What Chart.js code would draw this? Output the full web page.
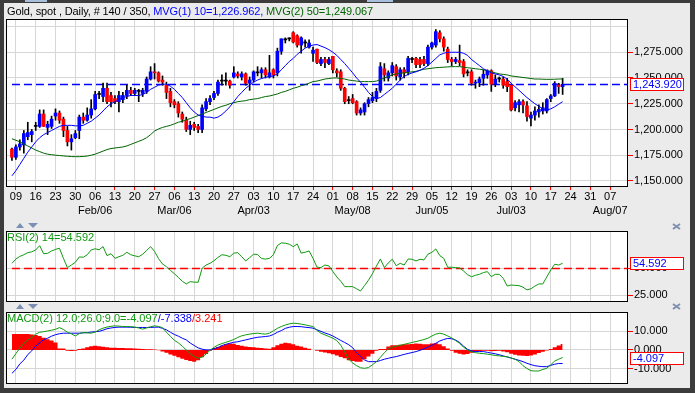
<!DOCTYPE html>
<html>
<head>
<meta charset="utf-8">
<script src="https://cdn.jsdelivr.net/npm/chart.js@4.4.1/dist/chart.umd.min.js"></script>
<style>
html,body{margin:0;padding:0;background:#ebebeb;}
#stage{position:relative;width:695px;height:393px;overflow:hidden;background:#ebebeb;font-family:"Liberation Sans",Arial,sans-serif;}
#stage canvas{position:absolute;left:0;top:0;}
.txt{position:absolute;font-size:11px;line-height:13px;white-space:nowrap;}
.blk{position:absolute;background:#3c3c3c;}
.up{position:absolute;width:0;height:0;border-left:4px solid transparent;border-right:4px solid transparent;border-bottom:5px solid #7a8fb3;}
.dn{position:absolute;width:0;height:0;border-left:5px solid transparent;border-right:5px solid transparent;border-top:5px solid #7a8fb3;}
</style>
</head>
<body>
<div id="stage">
<canvas id="cMain" width="695" height="393"></canvas>
<canvas id="cRsi" width="695" height="393"></canvas>
<canvas id="cMacd" width="695" height="393"></canvas>
<div class="blk" style="left:0;top:0;width:695px;height:3px"></div>
<div class="blk" style="left:0;top:0;width:4px;height:393px"></div>
<div class="blk" style="left:690px;top:0;width:5px;height:393px"></div>
<div class="blk" style="left:0;top:388px;width:695px;height:5px"></div>
<div style="position:absolute;left:25px;top:0;width:22px;height:2px;background:#a9c0dc"></div>
<div style="position:absolute;left:367px;top:0;width:26px;height:2px;background:#a9c0dc"></div>
<div class="txt" style="left:7px;top:5px;color:#000;letter-spacing:-0.12px">Gold, spot , Daily, # 140 / 350, <span style="color:#0000ff">MVG(1) 10=1,226.962,</span> <span style="color:#006400">MVG(2) 50=1,249.067</span></div>
<div class="txt" style="left:7px;top:231px;color:#119911">RSI(2) 14=54.592</div>
<div class="txt" style="left:7px;top:312px;color:#119911">MACD(2) 12.0;26.0;9.0=-4.097<span style="color:#0000ff">/-7.338</span><span style="color:#ff0000">/3.241</span></div>
<div class="up" style="left:16px;top:223px"></div>
<div class="dn" style="left:28px;top:223px"></div>
<svg style="position:absolute;left:672px;top:223px" width="9" height="7"><path d="M1 1L8 6M8 1L1 6" stroke="#8090b0" stroke-width="2"/></svg>
<div class="up" style="left:16px;top:304px"></div>
<div class="dn" style="left:28px;top:304px"></div>
<svg style="position:absolute;left:672px;top:303px" width="9" height="7"><path d="M1 1L8 6M8 1L1 6" stroke="#8090b0" stroke-width="2"/></svg>
</div>
<script>
// ---------------- data ----------------
const axisStart = '2017-01-05';
const axisEnd = '2017-08-11';
const firstBar = '2017-01-06';

const open = [1181,1173,1183,1185,1193,1195,1203,1203,1215,1202,
1203,1213,1216,1210,1199,1188,1192,1199,1212,1209,
1214,1220,1234,1232,1240,1233,1230,1227,1229,1233,
1238,1235,1237,1235,1237,1249,1256,1255,1248,1243,
1237,1227,1225,1215,1209,1200,1205,1203,1200,1220,
1227,1231,1235,1247,1247,1247,1251,1254,1251,1254,
1245,1248,1255,1255,1258,1251,1258,1255,1276,1287,
1288,1294,1291,1282,1284,1280,1274,1278,1264,1268,
1264,1271,1257,1256,1240,1228,1230,1227,1216,1217,
1225,1228,1230,1238,1259,1250,1255,1261,1251,1258,
1256,1268,1269,1268,1268,1264,1280,1282,1294,1288,
1278,1268,1266,1267,1266,1255,1256,1245,1245.5,1249.7,
1253,1257,1244,1249,1249,1246.5,1243,1221,1224,1227,
1223,1211,1214,1217,1218,1218,1230,1232.6,1243.2,1241.6];

const high = [1182,1185,1190,1199,1207,1200,1207,1219,1219,1208,
1213,1220,1218,1212,1203,1195,1199,1214,1216,1221,
1229,1237,1237,1245,1245,1236,1233,1237,1236,1243,
1241,1240,1239,1240,1251,1261,1264,1256,1252,1246,
1240,1229,1227,1217,1212,1208,1207,1205,1224,1230,
1233,1237,1248,1253,1255,1248,1261,1256,1256,1255,
1251,1257,1261,1260,1260,1272,1259,1279,1288,1289,
1289,1295,1292,1290,1287,1287,1280,1278,1270,1270,
1270,1271,1259,1258,1241,1232,1234,1228,1221,1226,
1231,1236,1240,1265,1264,1257,1265,1263,1260,1260,
1271,1270,1270,1270,1271,1282,1285,1297,1296,1290,
1280,1270,1270,1282,1268,1258,1258,1248,1251,1257.8,
1258,1258,1253,1251,1251,1249.7,1243,1228,1229,1228.7,
1227,1217,1222,1224,1226,1230,1234,1246.5,1244.9,1249.7];

const low = [1170,1171,1180,1177,1190,1188,1199,1202,1203,1195,
1201,1209,1206,1193,1184,1180,1191,1191,1206,1208,
1211,1219,1230,1227,1225,1222,1225,1217,1226,1230,
1233,1233,1227,1232,1235,1248,1249,1246,1243,1230,
1222,1221,1212,1207,1198,1195,1199,1197,1197,1218,
1224,1229,1233,1243,1243,1240,1250,1250,1248,1243,
1238,1246,1252,1250,1250,1250,1250,1252,1273,1284,
1286,1284,1280,1274,1280,1279,1266,1264,1262,1260,
1263,1255,1251,1238,1225,1225,1225,1214,1214,1214,
1222,1226,1227,1236,1247,1247,1252,1248,1248,1250,
1253,1265,1260,1260,1262,1262,1278,1280,1285,1276,
1265,1262,1264,1262,1251,1252,1243,1240,1241.6,1243,
1249.7,1237,1241.6,1246,1240,1236.8,1218,1218,1217,1216,
1208,1203.4,1209,1212,1215,1216,1227,1231.9,1235,1234];

const close = [1173,1183,1186,1196,1197,1198,1203,1215,1203,1205,
1210,1216,1209,1199,1188,1191,1196,1212,1209,1214,
1220,1234,1234,1240,1227,1227,1227,1233,1233,1238,
1235,1238,1237,1238,1249,1256,1255,1247,1246,1236,
1226,1224,1216,1210,1200,1204,1202,1200,1221,1227,
1230,1235,1246,1247,1247,1243,1255,1252,1254,1245,
1248,1256,1255,1258,1253,1255,1253,1276,1288,1287,
1288,1285,1282,1289,1284,1284,1277,1265,1268,1265,
1268,1258,1255,1240,1227,1228,1226,1216,1219,1225,
1229,1231,1237,1261,1253,1255,1262,1252,1258,1255,
1269,1268,1263,1263,1264,1280,1284,1295,1288,1280,
1268,1266,1268,1265,1254,1255,1245,1245.5,1249,1253.6,
1257,1244,1249,1249,1243,1241.6,1219,1226,1227,1223.8,
1212.5,1214,1218,1219.5,1221,1229,1232.6,1244.9,1241.6,1243.92];

const ma10 = [1155,1160,1166,1172,1178,1183,1188,1192,1195,1197,
1199,1201,1203,1204,1204,1204,1203.5,1203.5,1204,1206,
1208,1211,1214,1218,1222,1225,1227,1229,1231,1232,
1233,1233,1233,1234,1236,1239,1241,1243,1244,1244,
1242,1239,1235,1231,1226,1221,1217,1214,1213,1212,
1212,1211,1212,1214.5,1218,1222,1227,1232,1236,1240,
1243,1246,1248,1249.5,1250.5,1251.5,1252,1254,1258,1262,
1266,1269,1273,1276,1279,1281,1282,1282.5,1281,1279.5,
1277.5,1275,1272,1268,1264,1259.5,1255,1250,1246,1241,
1236,1232,1230,1231,1234,1237,1240,1244,1248,1251.5,
1253.5,1255,1256,1257.5,1259.5,1262,1265.5,1269,1272.5,1274,
1275,1275,1275,1275,1274,1272,1268,1265,1262,1259,
1257,1255,1254,1253,1251.5,1249,1245,1241.5,1238,1234.5,
1231,1228,1225,1222.5,1220,1219,1220,1222,1224.5,1226.962];

const ma50 = [1191,1189.5,1188,1186,1184,1182,1180,1178.5,1177,1176,
1175.5,1175,1174.7,1174.3,1174,1173.7,1173.6,1173.6,1173.8,1174.2,
1175,1176,1177.5,1179,1180.5,1181.5,1182,1182.5,1183,1184,
1185.5,1187,1188.5,1190,1192,1195,1198.5,1200.5,1202,1203,
1204,1205.5,1207,1208,1209.5,1210.5,1212,1213.5,1215,1216.5,
1218,1219.5,1221,1222.5,1223.5,1225,1226,1227,1227.5,1228,
1229,1229.5,1230,1231,1232,1232.5,1233.5,1234.5,1236,1237,
1238.5,1240,1241,1242.5,1243.5,1245,1246.5,1247,1248,1249,
1249.5,1250,1250,1249.5,1249,1248,1247.5,1247,1246.5,1246.5,
1246.5,1246.5,1247,1248.5,1250,1251.5,1253,1254,1254.5,1255,
1255.5,1256,1256.5,1257.5,1258.5,1259,1259.5,1260,1260.3,1260.5,
1260.8,1261,1261,1261,1260.5,1260,1259.5,1259,1258.5,1258,
1257,1256,1255,1254,1253.5,1253,1252,1251.5,1251,1250.5,
1250,1249.5,1249,1249,1248.8,1248.7,1248.7,1248.8,1249,1249.067];

const rsi = [54.6,58.5,61,62.5,64.5,65.2,67,70.9,63.5,63.8,
66,67.5,68.5,59.2,50.6,53,55.5,60.5,60.2,62.5,
67,68,67.2,70,61.7,63.5,59.2,60.7,62,64.8,
62.5,61.5,60.7,63,66.5,70,65.5,59,54,51.5,
48,45,41.5,38,35.5,37.6,37.2,37,50,53,
54.6,57,60,62.5,62,60.7,64,64.5,60.7,56.8,
59.8,63,62.8,59,58.5,59.2,62.5,71,73.5,73.2,
72.3,70,72.5,64,64.8,66,59.2,51,50.6,53,
52.2,47,42,38,33,33,33,31,29,34,
39,45,52,58.6,50.6,55,58.3,52.4,54.6,53,
58.6,58.3,56.8,58.3,57.7,63,64.8,67.9,61.7,59.2,
50.9,51,50.6,50.3,47.5,44,42.2,43.5,44.4,46,
46.9,42.2,44.4,44.4,40.7,33.6,34.5,34.2,33.9,32.5,
30,31,33.5,35.5,35.5,42,48.4,53.7,53,54.592];

const macd = [-5,-2,1,3.5,5.3,6.8,8.5,9.5,9.8,10.2,
10.6,11.1,12,11,9.5,8.65,7.5,8.8,9.3,9.2,
9,9.6,10.8,11.7,12.3,12.7,12.95,12.8,12.6,12.6,
12.5,12.3,11.8,11.2,11.8,12.5,12.95,12.6,12,9.5,
7.3,5.2,3.8,2,0,-2,-3.5,-4.5,-3.8,-2.2,
-0.2,1.4,2.6,3.4,4.1,4.8,5.6,6.7,7.6,8.1,
8.5,8.8,9,8.7,8.5,9,10.3,11.6,12.6,13.4,
14,14.4,14.2,13.9,13.5,13,12.6,10.5,9,8.1,
7.2,6.3,5,2.5,-1,-5,-7,-8.5,-9.6,-9.9,
-9.5,-8,-6.3,-4,-1.5,0.5,1.5,2,2.5,3,
3.5,4,4.5,5,5.6,6.3,7.5,8.5,9,8.5,
7.5,6.5,5,3.5,1.5,0,-1,-1.5,-1.8,-2,
-2.3,-2.6,-3,-3.2,-3.5,-3.7,-4.3,-5,-6.3,-8.5,
-10,-11.2,-11.35,-11.35,-10.5,-9.9,-8,-6,-5,-4.097];

const signal = [-12.6,-10.5,-7.5,-5.5,-2.5,-0.5,2,3.8,5.5,6.3,
7.4,8.2,8.7,9,9,9,9,9,9.2,9.3,
9.6,9.8,10,10.6,11.4,11.8,12.1,12.25,12.25,12.25,
12.2,12.1,12.07,12.07,12.07,12.1,12.2,12.25,11.6,10.8,
9.5,8.3,7.4,6.3,5.4,3.7,2.4,1.1,0.4,0,
0,0.6,1.3,2.3,3,3.6,4.1,4.4,4.9,5.4,
5.9,6.4,6.8,7,7.2,7.5,8.3,9.5,10.4,11.6,
12.2,12.6,12.6,12.5,12.2,12,11.7,10.8,10,9.1,
8.4,7.5,6.3,5.1,4,2.8,1.2,-1.5,-3.5,-5.4,
-6.3,-6.3,-6.3,-5.7,-5,-4.5,-4,-3.6,-3,-2.4,
-1.9,-1.4,-0.9,-0.2,0.6,1.5,2.5,3.6,4.8,5.6,
6.2,6,5.3,4,2,0.3,-0.6,-0.9,-0.9,-0.9,
-1.3,-1.7,-2.1,-2.6,-3.2,-3.8,-4.4,-5,-5.6,-6.3,
-7.2,-7.9,-8.5,-8.8,-9,-9,-8.3,-7.7,-7.3,-7.338];

const hist = [8.5,8.6,8.6,8.6,8.5,8.3,8,7.5,6.5,5.8,
5,4,0.8,0.8,-0.5,-0.6,-0.5,0.5,0.8,1.5,
2,2.2,2,1.7,1.4,1.2,1.1,1,1,0.9,
0.9,0.8,0.6,0.5,0.4,0.3,0.2,-0.2,-0.8,-1.5,
-2.4,-3.2,-4,-4.8,-5.4,-5.9,-6.3,-5.5,-4,-2.2,
-0.5,0.9,1.6,2.3,3,3.5,3.3,2.6,2.2,1.9,
1.6,1.4,1.2,1,0.8,0.6,1.5,2.5,3.3,3.8,
3.6,3,2.3,1.8,1.2,0.6,0,-0.5,-1,-1.4,
-1.8,-2.3,-3,-3.8,-4.5,-5.5,-6,-6.3,-6.3,-5,
-3.5,-2,-0.5,0.5,0.5,1.8,2.5,2.5,2.8,3,
3,3.2,3.4,3.3,3,3.1,3.4,3.6,3,2,
0.8,-0.5,-1.5,-2,-2.5,-2.2,-1.5,-1,-0.7,-0.5,
-0.4,-0.7,-0.6,-0.5,-0.8,-1.2,-2,-2.6,-3,-3.2,
-3.3,-3,-2.4,-1.6,-1,-0.3,0.5,1.5,2.4,3.241];

const priceTicks = [1150,1175,1200,1225,1250,1275,1300];
const priceHiddenTicks = [1300];
const rsiTicks = [25,50];
const macdTicks = [-10,0,10];
const monthTicks = [['2017-02-06','Feb/06'],['2017-03-06','Mar/06'],['2017-04-03','Apr/03'],['2017-05-08','May/08'],['2017-06-05','Jun/05'],['2017-07-03','Jul/03'],['2017-08-07','Aug/07']];

// ---------------- helpers ----------------
const FONT = '"Liberation Sans", Arial, sans-serif';
function bizDays(from, to){
  const out=[]; let d=new Date(from+'T00:00:00Z'); const end=new Date(to+'T00:00:00Z');
  while(d<=end){ const w=d.getUTCDay(); if(w>0&&w<6) out.push(d.toISOString().slice(0,10)); d=new Date(d.getTime()+86400000); }
  return out;
}
const axisDays = bizDays(axisStart, axisEnd);
const startIdx = axisDays.indexOf(firstBar);
const monthMap = Object.fromEntries(monthTicks);
const isMon = i => i>=0 && i<axisDays.length && new Date(axisDays[i]+'T00:00:00Z').getUTCDay()===1;
const fmt = v => Number(v).toLocaleString('en-US',{minimumFractionDigits:3,maximumFractionDigits:3});
function pad(arr){ const out=new Array(axisDays.length).fill(null); arr.forEach((v,i)=>{ out[i+startIdx]=v; }); return out; }
const GRID = '#d6d6d6';

const panelPlugin = {
  id:'panel',
  beforeDraw(chart){
    const {ctx, chartArea:a} = chart;
    ctx.save(); ctx.fillStyle='#fff'; ctx.fillRect(a.left,a.top,a.right-a.left,a.bottom-a.top); ctx.restore();
  },
  beforeDatasetsDraw(chart, args, o){
    if (o.refValue == null) return;
    const {ctx, chartArea:a, scales} = chart;
    const y = Math.round(scales.y.getPixelForValue(o.refValue)) + 0.5;
    const x0 = scales.x.getPixelForValue(startIdx);
    ctx.save(); ctx.strokeStyle=o.refColor; ctx.lineWidth=1.5; ctx.setLineDash([8,4]);
    ctx.beginPath(); ctx.moveTo(x0,y); ctx.lineTo(a.right,y); ctx.stroke(); ctx.restore();
  },
  afterDraw(chart, args, o){
    const {ctx, chartArea:a, scales} = chart;
    ctx.save();
    ctx.strokeStyle='#000'; ctx.lineWidth=1;
    ctx.strokeRect(a.left+0.5, a.top+0.5, a.right-a.left-1, a.bottom-a.top);
    if (o.boxValue != null){
      const y = Math.round(scales.y.getPixelForValue(o.boxValue));
      ctx.fillStyle='#fff'; ctx.fillRect(630, y-6, 53, 12);
      ctx.strokeStyle='#ff0000'; ctx.strokeRect(630.5, y-5.5, 53, 12);
      ctx.fillStyle='#0000ff'; ctx.font='11px '+FONT; ctx.textBaseline='middle'; ctx.textAlign='left';
      ctx.fillText(fmt(o.boxValue), 633, y+0.5);
    }
    ctx.restore();
  }
};

function xAxis(showLabels){
  return {
    type:'category', labels:axisDays, offset:true,
    afterFit: s => { s.height = showLabels ? 34 : 0; },
    border:{display:false},
    grid:{ offset:false, drawTicks:showLabels, tickLength:4,
      color: c => isMon(c.index) ? GRID : 'rgba(0,0,0,0)',
      tickColor: c => isMon(c.index) ? '#ff0000' : 'rgba(0,0,0,0)' },
    ticks:{ display:showLabels, autoSkip:false, maxRotation:0, minRotation:0, padding:0, color:'#000',
      font:{family:FONT, size:11, lineHeight:1.3},
      callback:(v,i) => { if(!isMon(i)) return ''; const d=axisDays[i]; const day=d.slice(8,10); return monthMap[d] ? [day, monthMap[d]] : day; } }
  };
}
function yAxis(min, max, ticks, hidden){
  hidden = hidden || [];
  return {
    position:'right', min, max,
    afterBuildTicks: s => { s.ticks = ticks.map(v => ({value:v})); },
    afterFit: s => { s.width = 67; },
    border:{display:false},
    grid:{ color:GRID, drawTicks:true, tickLength:5,
      tickColor: c => (c.tick && hidden.includes(c.tick.value)) ? 'rgba(0,0,0,0)' : '#ff0000' },
    ticks:{ padding:1, color:'#000', font:{family:FONT, size:11}, callback: v => hidden.includes(v) ? '' : fmt(v) }
  };
}
function baseOpts(top, bottom, panel, x, y){
  return { responsive:false, animation:false, events:[],
    layout:{padding:{left:6, right:0, top:top, bottom:bottom}},
    plugins:{legend:{display:false}, tooltip:{enabled:false}, panel:panel, filler:{propagate:false}},
    scales:{x:x, y:y} };
}
const lineDs = (data, color, order) => ({type:'line', data:pad(data), borderColor:color, borderWidth:1, pointRadius:0, tension:0, order:order});

// ---------------- main price panel ----------------
const bodyColor = c => { const i=c.dataIndex-startIdx; if(i<0||i>=open.length) return '#000'; return close[i]>open[i] ? '#0000ff' : (close[i]<open[i] ? '#ff0000' : '#000000'); };
new Chart(document.getElementById('cMain'), {
  type:'bar',
  data:{ labels:axisDays, datasets:[
    lineDs(ma10, '#0000ff', 0),
    lineDs(ma50, '#006400', 0),
    {type:'bar', data:pad(open.map((o,i)=>[o, close[i]])), backgroundColor:bodyColor, barThickness:3, grouped:false, minBarLength:1, borderWidth:0, order:1},
    {type:'bar', data:pad(low.map((l,i)=>[l, high[i]])), backgroundColor:'#000', barThickness:1, grouped:false, borderWidth:0, order:2}
  ]},
  options: baseOpts(19, 173, {refValue:close[close.length-1], refColor:'#0000ff', boxValue:close[close.length-1]},
    xAxis(true), yAxis(1145.1, 1307.3, priceTicks, priceHiddenTicks)),
  plugins:[panelPlugin]
});

// ---------------- RSI panel ----------------
new Chart(document.getElementById('cRsi'), {
  type:'bar',
  data:{ labels:axisDays, datasets:[ lineDs(rsi, '#119911', 0) ]},
  options: baseOpts(231, 92, {refValue:50, refColor:'#ff0000', boxValue:rsi[rsi.length-1]},
    xAxis(false), yAxis(19.7, 84.5, rsiTicks)),
  plugins:[panelPlugin]
});

// ---------------- MACD panel ----------------
new Chart(document.getElementById('cMacd'), {
  type:'line',
  data:{ labels:axisDays, datasets:[
    lineDs(macd, '#119911', 0),
    lineDs(signal, '#0000ff', 0),
    {type:'line', data:pad(hist), stepped:'middle', fill:'origin', backgroundColor:'#ff0000', borderColor:'#ff0000', borderWidth:0, pointRadius:0, order:1}
  ]},
  options: baseOpts(312, 10, {boxValue:macd[macd.length-1]},
    xAxis(false), yAxis(-17.8, 20.4, macdTicks)),
  plugins:[panelPlugin]
});
</script>
</body>
</html>
